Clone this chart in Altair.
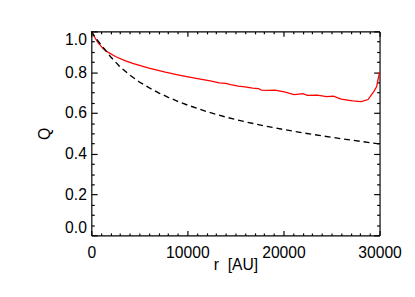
import altair as alt
import pandas as pd

# Red solid curve (simulation)
red_r = [0, 300, 700, 1200, 1600, 2500, 3500, 4300, 6000, 7700, 9000, 10200,
         11500, 12500, 13300, 14000, 14500, 15300, 16000, 16800, 17400, 17700,
         18500, 19100, 20100, 21100, 21600, 22000, 22500, 23500, 24500, 25200,
         26000, 27200, 28100, 28800, 29400, 29700, 30000]
red_q = [1.0, 0.975, 0.945, 0.917, 0.902, 0.877, 0.857, 0.843, 0.82, 0.80, 0.787, 0.776,
         0.765, 0.756, 0.748, 0.745, 0.739, 0.732, 0.728, 0.722, 0.72, 0.712,
         0.711, 0.712, 0.703, 0.69, 0.693, 0.695, 0.686, 0.688, 0.68, 0.683,
         0.668, 0.659, 0.656, 0.666, 0.705, 0.73, 0.80]

# Black dashed curve (reference)
dash_r = [0, 500, 1000, 2000, 3000, 4000, 5000, 6000, 7000, 8000, 9000, 10000,
          12000, 14000, 16000, 18000, 20000, 22000, 24000, 26000, 28000, 30000]
dash_q = [1.0, 0.965, 0.935, 0.876, 0.826, 0.786, 0.752, 0.724, 0.699, 0.677, 0.657, 0.639,
          0.607, 0.58, 0.557, 0.537, 0.519, 0.503, 0.488, 0.474, 0.461, 0.448]

x_ticks = list(range(0, 30001, 1000))
y_ticks = [i * 5 / 100 for i in range(21)]

FONT = "Liberation Sans"

df_red = pd.DataFrame({"r": red_r, "Q": red_q})
df_dash = pd.DataFrame({"r": dash_r, "Q": dash_q})

xscale = alt.Scale(domain=[0, 30000], nice=False, zero=False)
yscale = alt.Scale(domain=[0, 1], nice=False, zero=False)

x_major = "datum.value % 10000 === 0"
y_major = "round(datum.value * 100) % 20 === 0"

# inward ticks: constant negative length, minor ticks shortened with a dash pattern
x_tick_size = {"expr": "-5"}
y_tick_size = {"expr": "-6"}
x_tick_dash = {"condition": {"test": x_major, "value": [10, 0]}, "value": [2.5, 10]}
y_tick_dash = {"condition": {"test": y_major, "value": [10, 0]}, "value": [3, 10]}

y_label_baseline = {
    "condition": [
        {"test": "datum.value <= 0", "value": "bottom"},
        {"test": "datum.value >= 1", "value": "top"},
    ],
    "value": "middle",
}

common = dict(domainColor="black", domainWidth=1.2, tickColor="black", tickWidth=1.2,
              grid=False, labelFont=FONT, labelFontSize=16, labelColor="black",
              titleFont=FONT, titleFontSize=16, titleColor="black", titleFontWeight="normal",
              labelOverlap=False, labelBound=False)

ax_bottom = alt.Axis(orient="bottom", values=x_ticks, format="d",
                     labelExpr=f"{x_major} ? datum.label : ''",
                     tickSize=x_tick_size, tickDash=x_tick_dash,
                     labelPadding=15, labelFlush=False,
                     title="r\u00a0\u00a0[AU]", titleX=147, titleY=30,
                     titleBaseline="middle", titleAlign="center", **common)
ax_left = alt.Axis(orient="left", values=y_ticks, format=".1f",
                   labelExpr=f"{y_major} ? datum.label : ''",
                   tickSize=y_tick_size, tickDash=y_tick_dash,
                   labelPadding=11, labelFlush=False, labelAlign="right",
                   labelBaseline=y_label_baseline,
                   title="Q", titleX=-48, titleY=104, titleAngle=270,
                   titleBaseline="middle", titleAlign="center", **common)
ax_top = alt.Axis(orient="top", values=x_ticks, labels=False, title=None,
                  tickSize=x_tick_size, tickDash=x_tick_dash, **common)
ax_right = alt.Axis(orient="right", values=y_ticks, labels=False, title=None,
                    tickSize=y_tick_size, tickDash=y_tick_dash, **common)

red = alt.Chart(df_red).mark_line(color="#ff0000", strokeWidth=1.3).encode(
    x=alt.X("r:Q", scale=xscale, axis=ax_bottom),
    y=alt.Y("Q:Q", scale=yscale, axis=ax_left),
)
dash = alt.Chart(df_dash).mark_line(color="black", strokeWidth=1.4, strokeDash=[6, 4]).encode(
    x=alt.X("r:Q", scale=xscale, axis=ax_top),
    y=alt.Y("Q:Q", scale=yscale, axis=ax_right),
)

chart = alt.layer(red, dash).resolve_axis(x="independent", y="independent").properties(
    width=294, height=208,
    autosize=alt.AutoSizeParams(type="none"),
    padding={"left": 85, "top": 21, "right": 28, "bottom": 60},
    background="white",
).configure_view(stroke=None)

chart.save("out.html", embed_options={"renderer": "svg", "actions": False})
